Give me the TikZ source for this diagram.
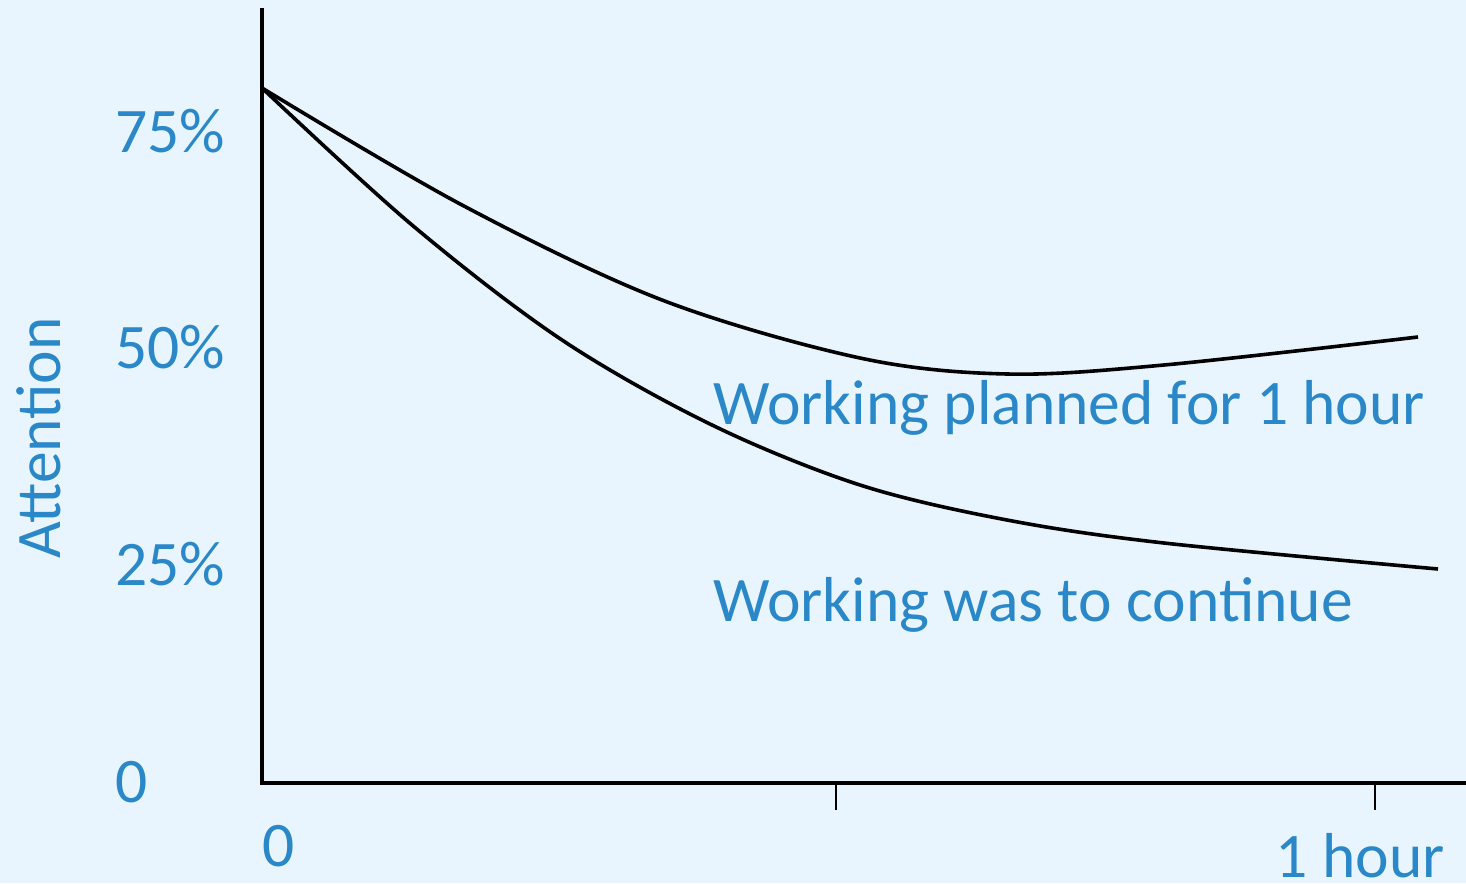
\documentclass[tikz,border=0pt]{standalone}
\usepackage{fontspec}
\setmainfont{Carlito}
\usetikzlibrary{positioning}
\definecolor{paleblue}{HTML}{E8F5FE}
\definecolor{labelblue}{HTML}{2B88C8}

\begin{document}
\begin{tikzpicture}[x=1pt, y=-1pt,
    lbl/.style={text=labelblue, font=\fontsize{63.5}{76}\selectfont, inner sep=0pt},
    axisline/.style={line width=4.2pt},
    curve/.style={line width=3.6pt, line join=round},
    tickmark/.style={line width=2.4pt}]

  \fill[paleblue] (0,0) rectangle (1466,883);
  \useasboundingbox (0,0) rectangle (1466,883);

  % Define nodes
  \coordinate (Origin) at (262,783);
  \coordinate (Top) at (262,8);
  \coordinate (Right) at (1466,783);
  \coordinate (Start) at (262,88);
  \coordinate (HalfTick) at (836,783);
  \coordinate (HourTick) at (1375,783);

  \node[lbl, anchor=base east] (Pct75) at (225,152) {75\%};
  \node[lbl, anchor=base east] (Pct50) at (225,368) {50\%};
  \node[lbl, anchor=base east] (Pct25) at (225,585) {25\%};
  \node[lbl, anchor=base east] (Pct0) at (148,802) {0};
  \node[lbl, rotate=90, anchor=base] (Attention) at (60,438) {Attention};
  \node[lbl, anchor=base west] (Zero) at (262,866) {0};
  \node[lbl, anchor=base east] (Hour) at (1445,877) {1 hour};
  \node[lbl, anchor=base west] (Planned) at (713,424) {Working planned for 1 hour};
  \node[lbl, anchor=base west] (Continue) at (713,621) {Working was to continue};

  % Axes and ticks
  \draw[axisline] (Top) -- (Origin) -- (Right);
  \draw[tickmark] (HalfTick) -- ++(0,27);
  \draw[tickmark] (HourTick) -- ++(0,27);

  % Connect the curves
  \draw[curve] plot[smooth, tension=0.55] coordinates {(Start) (462,205) (662,300)
    (860,358) (1007,374) (1164,365) (1418,337)};
  \draw[curve] plot[smooth, tension=0.55] coordinates {(Start) (412,225) (562,340)
    (712,425) (860,485) (1007,520) (1164,543) (1438,569)};

\end{tikzpicture}
\end{document}
